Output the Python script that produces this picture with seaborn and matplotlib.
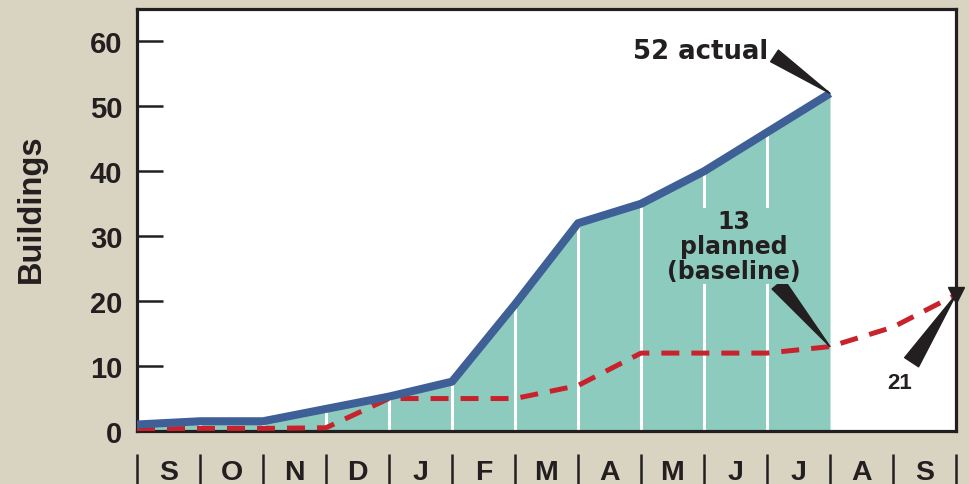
import numpy as np
import matplotlib
matplotlib.use("Agg")
import matplotlib.pyplot as plt
import seaborn as sns

# ---- data ----
months = ['S', 'O', 'N', 'D', 'J', 'F', 'M', 'A', 'M', 'J', 'J', 'A', 'S']
actual = [1.0, 1.5, 1.5, 3.4, 5.3, 7.6, 19.5, 32, 35, 40, 46, 52]
planned = [0.3, 0.4, 0.4, 0.5, 5, 5, 5, 7, 12, 12, 12, 13, 16, 21]
y_ticks = [0, 10, 20, 30, 40, 50, 60]
label_actual = '52 actual'
label_planned = '13\nplanned\n(baseline)'
label_end = '21'

# ---- style ----
BG = '#D9D4C2'
TEAL = '#8ECBBF'
BLUE = '#3F5F97'
RED = '#C8232C'
INK = '#231F20'

sns.set_theme(style='white')
plt.rcParams['font.family'] = ['Liberation Sans', 'DejaVu Sans']

fig = plt.figure(figsize=(9.69, 4.85), dpi=100, facecolor=BG)
W, H = 969, 485
ax_l, ax_r, ax_t, ax_b = 137, 956, 10, 432
ax = fig.add_axes([ax_l / W, (H - ax_b) / H, (ax_r - ax_l) / W, (ax_b - ax_t) / H])
ax.set_facecolor('white')

xa = np.arange(len(actual))
xp = np.arange(len(planned))

ax.fill_between(xa, 0, actual, color=TEAL, lw=0, zorder=1)
ax.vlines(xa[1:-1], 0, np.array(actual)[1:-1], color='white', lw=2.2, zorder=2)

sns.lineplot(x=xp, y=planned, ax=ax, color=RED, lw=3.6, zorder=4)
ax.lines[-1].set_dashes((3.6, 2.4))
sns.lineplot(x=xa, y=actual, ax=ax, color=BLUE, lw=5.8, zorder=5,
             solid_joinstyle='round', solid_capstyle='butt')

ax.set_xlim(0, len(months))
ax.set_ylim(0, 65)
ax.set_xticks([])
ax.set_yticks(y_ticks)
ax.set_yticklabels([str(v) for v in y_ticks], fontsize=21, fontweight='bold',
                   color=INK, family='Liberation Sans')
ax.tick_params(axis='y', direction='in', length=18.5, width=1.8, color=INK,
               pad=10.5, left=True, right=False)
for s in ax.spines.values():
    s.set_visible(True)
    s.set_color(INK)
    s.set_linewidth(2.3)

ax.set_ylabel('Buildings', fontsize=23.5, fontweight='bold', color=INK,
              family='Liberation Sans')
ax.yaxis.set_label_coords(-0.11, 0.528)

# month separators and labels below the frame
sec = ax.secondary_xaxis(-23 / (ax_b - ax_t))
sec.spines['bottom'].set_visible(False)
sec.set_xticks(np.arange(len(months) + 1))
sec.set_xticklabels([''] * (len(months) + 1))
sec.set_xticks(np.arange(len(months)) + 0.5, months, minor=True)
sec.tick_params(axis='x', which='major', direction='out', length=30, width=1.8,
                color=INK)
sec.tick_params(axis='x', which='minor', length=0, pad=3.5, labelsize=20.5,
                labelcolor=INK)
for t in sec.get_xticklabels(minor=True):
    t.set_fontweight('bold')
    t.set_family('Liberation Sans')

# annotations
ax.annotate(label_actual, xy=(xa[-1], actual[-1]), xytext=(8.94, 57.4),
            ha='center', va='baseline', fontsize=18.7, fontweight='bold',
            color=INK, family='DejaVu Sans', zorder=7,
            arrowprops=dict(arrowstyle='wedge,tail_width=0.5,shrink_factor=0.5',
                            color=INK, relpos=(1, 0.5), shrinkA=3, shrinkB=0,
                            mutation_scale=20))

ax.annotate(label_planned, xy=(xa[-1], planned[len(actual) - 1]), xytext=(9.48, 28.5),
            ha='center', va='center', fontsize=17, fontweight='bold',
            color=INK, family='DejaVu Sans', linespacing=1.05, zorder=7,
            bbox=dict(boxstyle='square,pad=0.05', fc=TEAL, ec='none'),
            arrowprops=dict(arrowstyle='wedge,tail_width=0.55,shrink_factor=0.5',
                            color=INK, relpos=(0.82, 0), shrinkA=0, shrinkB=0,
                            mutation_scale=20))

ax.annotate(label_end, xy=(xp[-1], planned[-1]), xytext=(12.11, 7.4),
            ha='center', va='center', fontsize=16, fontweight='bold',
            color=INK, family='Liberation Sans', zorder=7, annotation_clip=False,
            arrowprops=dict(arrowstyle='wedge,tail_width=0.6,shrink_factor=0.5',
                            color=INK, relpos=(0.7, 1), shrinkA=6, shrinkB=0,
                            mutation_scale=20, clip_on=False))
ax.plot([xp[-1]], [planned[-1]], marker='v', ms=12, color=INK, clip_on=False,
        zorder=8, lw=0)

fig.savefig('out.png', dpi=100, facecolor=BG)
